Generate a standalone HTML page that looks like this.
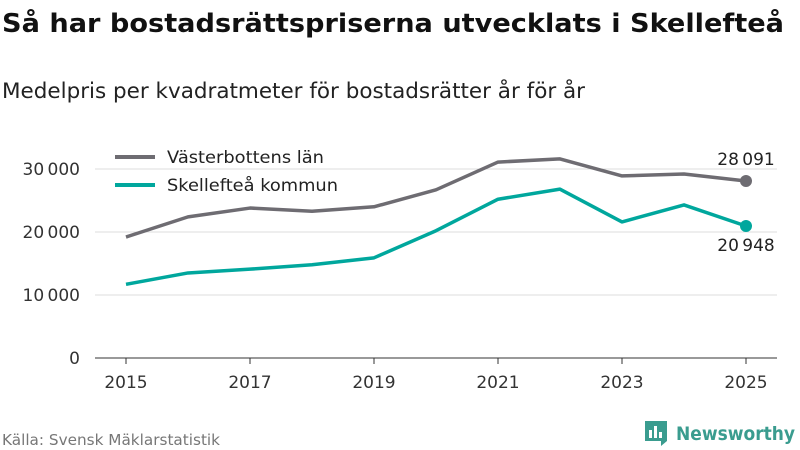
<!DOCTYPE html>
<html><head><meta charset="utf-8"><style>
body{margin:0;width:800px;height:450px;background:#fff;font-family:"Liberation Sans","DejaVu Sans",sans-serif;overflow:hidden}
</style></head><body>
<svg width="800" height="450" style="position:absolute;left:0;top:0">
<text x="2" y="32" font-size="26" font-weight="bold" fill="#111" textLength="782" lengthAdjust="spacingAndGlyphs" font-family="DejaVu Sans, sans-serif">Så har bostadsrättspriserna utvecklats i Skellefteå</text>
<text x="2" y="98" font-size="21" fill="#222" textLength="583" lengthAdjust="spacingAndGlyphs" font-family="DejaVu Sans, sans-serif">Medelpris per kvadratmeter för bostadsrätter år för år</text>
<g id="grid"></g><g id="axes"></g><g id="lines"></g>
<g font-family="DejaVu Sans, sans-serif">
<line x1="115" y1="157" x2="155" y2="157" stroke="#6e6c72" stroke-width="4"/>
<text x="167" y="163" font-size="17" fill="#222" textLength="157" lengthAdjust="spacingAndGlyphs">Västerbottens län</text>
<line x1="115" y1="185" x2="155" y2="185" stroke="#00a79d" stroke-width="4"/>
<text x="167" y="191" font-size="17" fill="#222" textLength="171" lengthAdjust="spacingAndGlyphs">Skellefteå kommun</text>
</g>
<text x="2" y="445" font-size="15" fill="#777" textLength="218" lengthAdjust="spacingAndGlyphs" font-family="DejaVu Sans, sans-serif">Källa: Svensk Mäklarstatistik</text>
<g>
<path d="M645 421h22v20l-6 5v-5h-16z" fill="#3a9c8f"/>
<rect x="649" y="430" width="3" height="8" fill="#fff"/><rect x="654" y="426" width="3" height="12" fill="#fff"/><rect x="659" y="432" width="3" height="6" fill="#fff"/>
<text x="676" y="440" font-size="19" font-weight="bold" fill="#3a9c8f" textLength="119" lengthAdjust="spacingAndGlyphs" font-family="DejaVu Sans, sans-serif">Newsworthy</text>
</g>
</svg>
<script>
const years=[2015,2016,2017,2018,2019,2020,2021,2022,2023,2024,2025];
const vasterbotten=[19200,22400,23800,23300,24000,26700,31100,31600,28900,29200,28091];
const skelleftea=[11700,13500,14100,14800,15900,20200,25200,26800,21600,24300,20948];
const yTicks=[0,10000,20000,30000];
const xTicks=[2015,2017,2019,2021,2023,2025];
const NS="http://www.w3.org/2000/svg";
const x=v=>126+(v-2015)*62;
const y=v=>358-v*0.0063;
const fmt=v=>String(Math.round(v)).replace(/\B(?=(\d{3})+(?!\d))/g,"\u2009");
function mk(tag,attrs,parent){const e=document.createElementNS(NS,tag);for(const k in attrs)e.setAttribute(k,attrs[k]);document.getElementById(parent).appendChild(e);return e;}
yTicks.forEach(t=>{
 if(t>0){const g=mk('line',{x1:95,x2:777,y1:y(t),y2:y(t),stroke:'#ddd','stroke-width':1},'grid');
 
 }
 const l=mk('text',{x:80,y:y(t)+6,'font-size':17,fill:'#333','text-anchor':'end','font-family':'DejaVu Sans, sans-serif'},'axes');
 l.textContent=fmt(t);
 
 
});
const ax=mk('line',{x1:95,x2:777,y1:358,y2:358,stroke:'#333','stroke-width':1},'axes');


xTicks.forEach(t=>{
 const tk=mk('line',{x1:x(t),x2:x(t),y1:358,y2:364,stroke:'#333'},'axes');
 
 
 const l=mk('text',{x:x(t),y:388,'font-size':17,fill:'#333','text-anchor':'middle','font-family':'DejaVu Sans, sans-serif'},'axes');
 l.textContent=t;
 
 
});
function series(vals,color,name,labelDy){
 const p=mk('polyline',{points:vals.map((v,i)=>x(years[i])+','+y(v)).join(' '),fill:'none',stroke:color,'stroke-width':3.5,'stroke-linejoin':'round'},'lines');
 
 
 const last=vals.length-1;
 const c=mk('circle',{cx:x(years[last]),cy:y(vals[last]),r:6,fill:color},'lines');
 
 
 const t=mk('text',{x:x(years[last]),y:y(vals[last])+labelDy,'font-size':17,fill:'#222','text-anchor':'middle','font-family':'DejaVu Sans, sans-serif'},'lines');
 t.textContent=fmt(vals[last]);
 
 
}
series(vasterbotten,'#6e6c72','vasterbotten',-16);
series(skelleftea,'#00a79d','skelleftea',25);
</script>
</body></html>
